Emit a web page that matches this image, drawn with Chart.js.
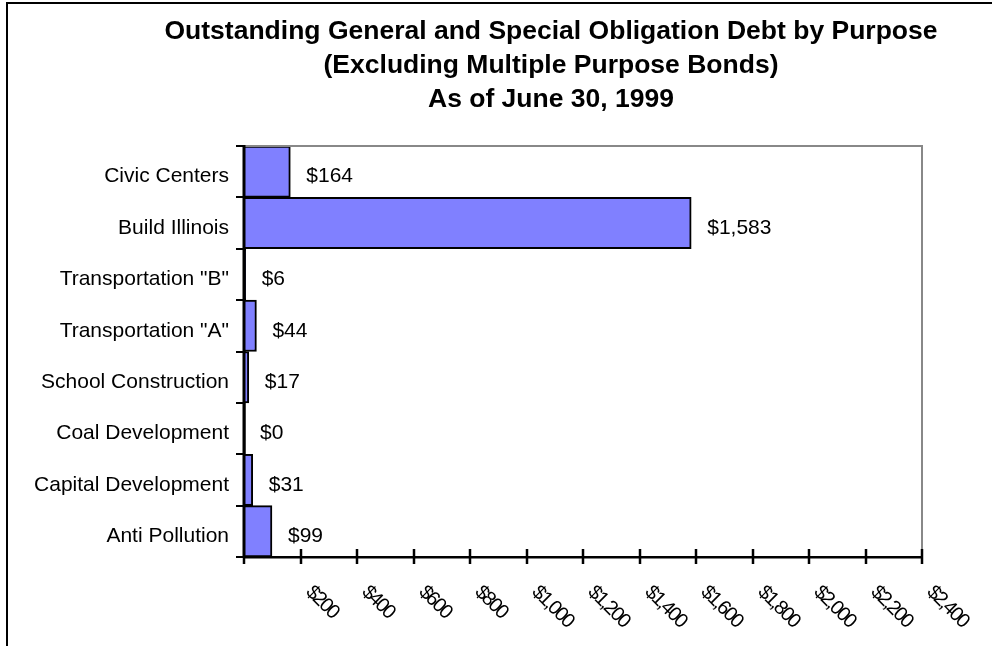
<!DOCTYPE html>
<html>
<head>
<meta charset="utf-8">
<script src="https://cdn.jsdelivr.net/npm/chart.js@4/dist/chart.umd.min.js"></script>
<style>
    body { margin: 0; background: #fff; }
    canvas { display: block; }
</style>
</head>
<body>
<canvas id="debtChart" width="992" height="646"></canvas>
<script>
// outstanding debt by purpose, $ millions
var categorias = ['Civic Centers', 'Build Illinois', 'Transportation "B"', 'Transportation "A"',
    'School Construction', 'Coal Development', 'Capital Development', 'Anti Pollution'];
var valores = [164, 1583, 6, 44, 17, 0, 31, 99];
var titulo = ['Outstanding General and Special Obligation Debt by Purpose',
    '(Excluding Multiple Purpose Bonds)',
    'As of June 30, 1999'];
var eixoMin = 0;
var eixoMax = 2400;
var eixoPasso = 200;

var FONTE = "'Liberation Sans', Arial, sans-serif";

function dinheiro(v) {
    return '$' + v.toLocaleString('en-US');
}

// title, outer frame, plot border, x ticks and value labels
var desenhos = {
    id: 'desenhos',
    beforeDraw: function (chart) {
        var ctx = chart.ctx;
        ctx.save();
        ctx.strokeStyle = '#000';
        ctx.lineWidth = 2;
        ctx.beginPath();
        ctx.moveTo(7, 646);
        ctx.lineTo(7, 3);
        ctx.lineTo(992, 3);
        ctx.stroke();

        ctx.fillStyle = '#000';
        ctx.font = 'bold 26.5px ' + FONTE;
        ctx.textAlign = 'center';
        ctx.textBaseline = 'alphabetic';
        for (var i = 0; i < titulo.length; i++) {
            ctx.fillText(titulo[i], 551, 39 + i * 34);
        }
        ctx.restore();
    },
    afterDraw: function (chart) {
        var ctx = chart.ctx;
        var area = chart.chartArea;
        var x = chart.scales.x;

        ctx.save();
        // gray top and right edges of the plot
        ctx.strokeStyle = '#888';
        ctx.lineWidth = 2;
        ctx.beginPath();
        ctx.moveTo(area.left, area.top);
        ctx.lineTo(area.right, area.top);
        ctx.lineTo(area.right, area.bottom - 8);
        ctx.stroke();

        // y axis line again, on top of the bars
        ctx.strokeStyle = '#000';
        ctx.lineWidth = 3;
        ctx.beginPath();
        ctx.moveTo(area.left, area.top - 1);
        ctx.lineTo(area.left, area.bottom);
        ctx.stroke();

        // tick marks crossing the x axis + slanted labels
        ctx.lineWidth = 2.5;
        ctx.fillStyle = '#000';
        ctx.font = '20px ' + FONTE;
        ctx.letterSpacing = '-2px';
        ctx.textAlign = 'left';
        ctx.textBaseline = 'middle';
        x.ticks.forEach(function (t) {
            var px = Math.round(x.getPixelForValue(t.value));
            ctx.beginPath();
            ctx.moveTo(px, t.value === 0 ? area.bottom : area.bottom - 8);
            ctx.lineTo(px, area.bottom + 7);
            ctx.stroke();
            if (t.value === 0) return;
            ctx.save();
            ctx.translate(px + 8, area.bottom + 32);
            ctx.rotate(Math.PI / 4);
            ctx.fillText(dinheiro(t.value), 0, 0);
            ctx.restore();
        });

        // value labels next to each bar
        ctx.letterSpacing = '0px';
        ctx.font = '21px ' + FONTE;
        var meta = chart.getDatasetMeta(0);
        meta.data.forEach(function (bar, i) {
            ctx.fillText(dinheiro(valores[i]), bar.x + 16, bar.y + 5);
        });
        ctx.restore();
    }
};

var ctx = document.getElementById('debtChart');
var debtChart = new Chart(ctx, {
    type: 'bar',
    data: {
        labels: categorias,
        datasets: [{
            label: 'Debt',
            data: valores,
            backgroundColor: '#8080FF',
            borderColor: '#000',
            borderWidth: 2,
            barPercentage: 1,
            categoryPercentage: 1
        }]
    },
    options: {
        indexAxis: 'y',
        responsive: false,
        animation: false,
        layout: {
            padding: { top: 146, right: 70, bottom: 0, left: 0 }
        },
        plugins: {
            legend: { display: false },
            title: { display: false },
            tooltip: { enabled: false }
        },
        scales: {
            x: {
                min: eixoMin,
                max: eixoMax,
                ticks: { stepSize: eixoPasso, display: false },
                grid: { display: false },
                border: { color: '#000', width: 2.5 },
                afterFit: function (scale) { scale.height = 89; }
            },
            y: {
                offset: true,
                grid: {
                    offset: true,
                    drawOnChartArea: false,
                    tickLength: 8,
                    color: '#000',
                    lineWidth: 2
                },
                border: { color: '#000', width: 2.5 },
                ticks: {
                    color: '#000',
                    padding: 7,
                    labelOffset: 5,
                    font: { family: FONTE, size: 21 }
                },
                afterFit: function (scale) { scale.width = 244; }
            }
        }
    },
    plugins: [desenhos]
});
</script>
</body>
</html>
